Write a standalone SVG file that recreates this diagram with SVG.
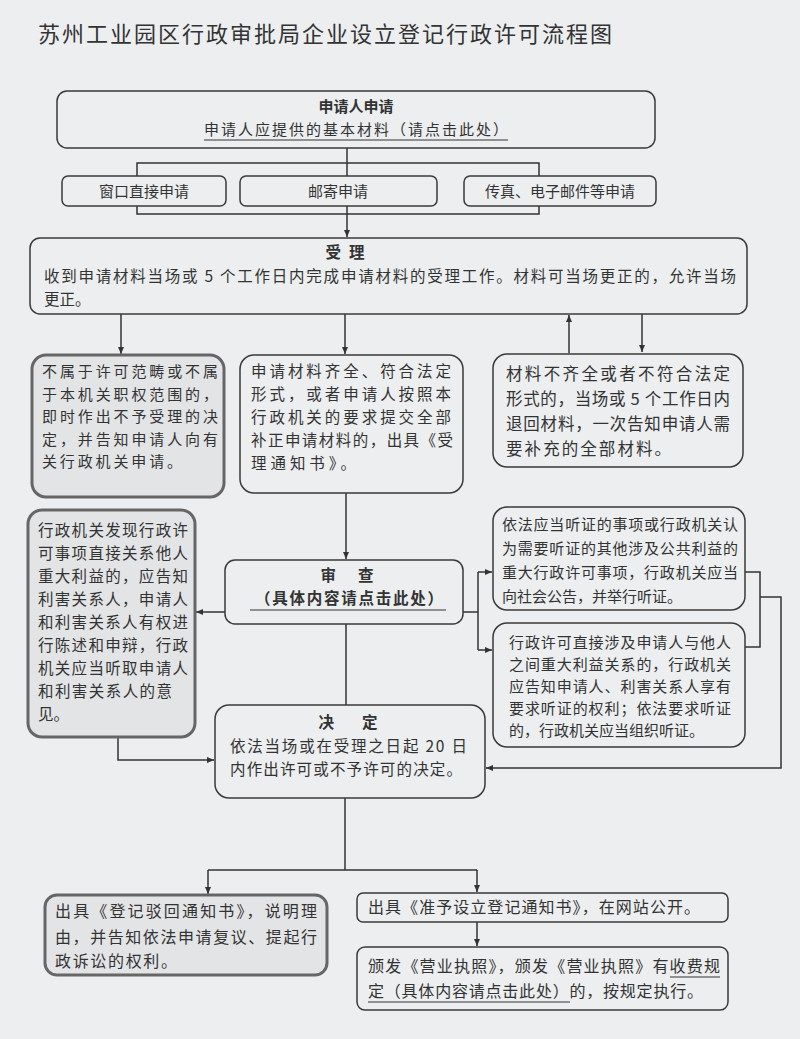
<svg xmlns="http://www.w3.org/2000/svg" width="800" height="1039" viewBox="0 0 800 1039">
<defs>
<marker id="ah" markerWidth="8" markerHeight="8" refX="7" refY="4" orient="auto" markerUnits="userSpaceOnUse">
<path d="M0,1 L7,4 L0,7 Z" fill="#333"/>
</marker>
<style>
.t{font-family:"Noto Sans CJK SC","Noto Sans",sans-serif;fill:#333;}
.b{font-weight:bold;}
.box{fill:#eceef0;stroke:#3a3a3a;stroke-width:1.5;}
.sh{fill:#e3e4e6;stroke:#666;stroke-width:3;}
.ln{fill:none;stroke:#333;stroke-width:1.5;}
.ar{fill:none;stroke:#333;stroke-width:1.5;marker-end:url(#ah);}
.ul{stroke:#333;stroke-width:1.2;}
</style>
</defs>
<rect x="0" y="0" width="800" height="1039" fill="#eceef0"/>
<text class="t" x="38" y="42" font-size="22" textLength="574" fill="#444">苏州工业园区行政审批局企业设立登记行政许可流程图</text>

<g id="connectors">
<path class="ln" d="M347,148 V176"/>
<path class="ln" d="M137,176 V163 H539 V176"/>
<path class="ln" d="M137,206 V214 H539 V206"/>
<path class="ar" d="M347,206 V237"/>
<path class="ar" d="M121,314 V354"/>
<path class="ar" d="M345,314 V354"/>
<path class="ar" d="M569,353 V315"/>
<path class="ar" d="M642,314 V352"/>
<path class="ar" d="M346,493 V559"/>
<path class="ar" d="M225,612 H196"/>
<path class="ln" d="M463,612 H478"/>
<path class="ln" d="M478,572 V650"/>
<path class="ar" d="M478,572 H492"/>
<path class="ar" d="M478,650 H492"/>
<path class="ln" d="M745,572 H760 V647 H745"/>
<path class="ar" d="M760,597 H781 V768 H486"/>
<path class="ar" d="M118,737 V760 H214"/>
<path class="ln" d="M346,624 V705"/>
<path class="ln" d="M345,798 V870"/>
<path class="ln" d="M208,870 H477"/>
<path class="ar" d="M208,870 V894"/>
<path class="ar" d="M477,870 V892"/>
<path class="ar" d="M477,922 V946"/>
</g>

<g id="apply">
<rect class="box" x="57" y="91" width="598" height="57" rx="10"/>
<text class="t b" x="356" y="112" font-size="15" text-anchor="middle">申请人申请</text>
<text class="t" x="204" y="135" font-size="15" textLength="304">申请人应提供的基本材料（请点击此处）</text>
<line class="ul" x1="204" y1="140" x2="508" y2="140"/>
</g>

<g id="window">
<rect class="box" x="62" y="176" width="164" height="30" rx="6"/>
<text class="t" x="144" y="197" font-size="15" text-anchor="middle">窗口直接申请</text>
</g>
<g id="mail">
<rect class="box" x="240" y="176" width="197" height="30" rx="6"/>
<text class="t" x="338" y="197" font-size="15" text-anchor="middle">邮寄申请</text>
</g>
<g id="fax">
<rect class="box" x="464" y="176" width="192" height="30" rx="6"/>
<text class="t" x="560" y="197" font-size="15" text-anchor="middle">传真、电子邮件等申请</text>
</g>

<g id="accept">
<rect class="box" x="30" y="238" width="717" height="76" rx="10"/>
<text class="t b" x="349" y="258" font-size="15.5" text-anchor="middle" letter-spacing="8">受理</text>
<text class="t" x="44" y="282" font-size="15.5" textLength="692">收到申请材料当场或 5 个工作日内完成申请材料的受理工作。材料可当场更正的，允许当场</text>
<text class="t" x="44" y="305" font-size="15.5">更正。</text>
</g>

<g id="reject">
<rect class="sh" x="32" y="355" width="192" height="142" rx="14"/>
<text class="t" font-size="15">
<tspan x="42" y="377" textLength="176">不属于许可范畴或不属</tspan>
<tspan x="42" y="399.5" textLength="176">于本机关职权范围的，</tspan>
<tspan x="42" y="422" textLength="176">即时作出不予受理的决</tspan>
<tspan x="42" y="444.5" textLength="176">定，并告知申请人向有</tspan>
<tspan x="42" y="467" textLength="140">关行政机关申请。</tspan>
</text>
</g>

<g id="complete">
<rect class="box" x="240" y="355" width="223" height="138" rx="14"/>
<text class="t" font-size="15.5">
<tspan x="251" y="377" textLength="200">申请材料齐全、符合法定</tspan>
<tspan x="251" y="400" textLength="200">形式，或者申请人按照本</tspan>
<tspan x="251" y="423" textLength="200">行政机关的要求提交全部</tspan>
<tspan x="251" y="446" textLength="202">补正申请材料的，出具《受</tspan>
<tspan x="251" y="469" textLength="105">理通知书》。</tspan>
</text>
</g>

<g id="incomplete">
<rect class="box" x="493" y="354" width="250" height="113" rx="14"/>
<text class="t" font-size="16.5">
<tspan x="506" y="380" textLength="224">材料不齐全或者不符合法定</tspan>
<tspan x="506" y="405" textLength="224">形式的，当场或 5 个工作日内</tspan>
<tspan x="506" y="430" textLength="224">退回材料，一次告知申请人需</tspan>
<tspan x="506" y="455" textLength="165">要补充的全部材料。</tspan>
</text>
</g>

<g id="review">
<rect class="box" x="225" y="560" width="238" height="64" rx="10"/>
<text class="t b" x="358" y="581" font-size="15.5" text-anchor="middle" letter-spacing="22">审查</text>
<text class="t b" x="255" y="604" font-size="15.5" textLength="188">（具体内容请点击此处）</text>
<line class="ul" x1="250" y1="610" x2="446" y2="610" stroke-width="1.6"/>
</g>

<g id="interest">
<rect class="sh" x="28" y="510" width="167" height="227" rx="14"/>
<text class="t" font-size="15.5">
<tspan x="38" y="536" textLength="150">行政机关发现行政许</tspan>
<tspan x="38" y="559" textLength="150">可事项直接关系他人</tspan>
<tspan x="38" y="582" textLength="150">重大利益的，应告知</tspan>
<tspan x="38" y="605" textLength="150">利害关系人，申请人</tspan>
<tspan x="38" y="628" textLength="150">和利害关系人有权进</tspan>
<tspan x="38" y="651" textLength="150">行陈述和申辩，行政</tspan>
<tspan x="38" y="674" textLength="150">机关应当听取申请人</tspan>
<tspan x="38" y="697" textLength="134">和利害关系人的意</tspan>
<tspan x="38" y="720">见。</tspan>
</text>
</g>

<g id="hearing1">
<rect class="box" x="493" y="507" width="252" height="103" rx="14"/>
<text class="t" font-size="15">
<tspan x="502" y="530" textLength="236">依法应当听证的事项或行政机关认</tspan>
<tspan x="502" y="554" textLength="236">为需要听证的其他涉及公共利益的</tspan>
<tspan x="502" y="578" textLength="236">重大行政许可事项，行政机关应当</tspan>
<tspan x="502" y="602">向社会公告，并举行听证。</tspan>
</text>
</g>

<g id="hearing2">
<rect class="box" x="493" y="623" width="252" height="124" rx="14"/>
<text class="t" font-size="15">
<tspan x="509" y="648" textLength="222">行政许可直接涉及申请人与他人</tspan>
<tspan x="509" y="670" textLength="222">之间重大利益关系的，行政机关</tspan>
<tspan x="509" y="692" textLength="222">应告知申请人、利害关系人享有</tspan>
<tspan x="509" y="714" textLength="222">要求听证的权利；依法要求听证</tspan>
<tspan x="509" y="736">的，行政机关应当组织听证。</tspan>
</text>
</g>

<g id="decision">
<rect class="box" x="215" y="705" width="270" height="93" rx="14"/>
<text class="t b" x="362" y="728" font-size="15.5" text-anchor="middle" letter-spacing="28">决定</text>
<text class="t" font-size="15.5">
<tspan x="230" y="752" textLength="237">依法当场或在受理之日起 20 日</tspan>
<tspan x="230" y="775" textLength="232">内作出许可或不予许可的决定。</tspan>
</text>
</g>

<g id="refuse">
<rect class="sh" x="45" y="895" width="282" height="80" rx="12" stroke-width="2.5"/>
<text class="t" font-size="16">
<tspan x="55" y="917" textLength="262">出具《登记驳回通知书》，说明理</tspan>
<tspan x="55" y="943" textLength="262">由，并告知依法申请复议、提起行</tspan>
<tspan x="55" y="967" textLength="122">政诉讼的权利。</tspan>
</text>
</g>

<g id="approve">
<rect class="box" x="357" y="893" width="371" height="29" rx="6"/>
<text class="t" x="368" y="913" font-size="16" textLength="332">出具《准予设立登记通知书》，在网站公开。</text>
</g>

<g id="license">
<rect class="box" x="357" y="947" width="371" height="63" rx="8"/>
<text class="t" font-size="16">
<tspan x="368" y="972" textLength="352">颁发《营业执照》，颁发《营业执照》有收费规</tspan>
<tspan x="368" y="997" textLength="335">定（具体内容请点击此处）的，按规定执行。</tspan>
</text>
<line class="ul" x1="670" y1="977" x2="720" y2="977"/>
<line class="ul" x1="368" y1="1002" x2="570" y2="1002"/>
</g>
</svg>
